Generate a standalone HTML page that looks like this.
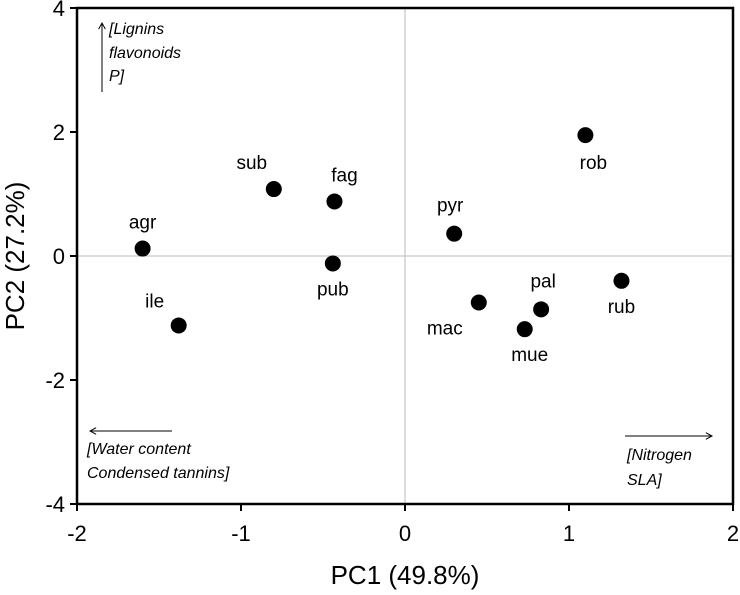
<!DOCTYPE html>
<html><head><meta charset="utf-8"><style>
body{margin:0;background:#fff}
svg text{font-family:"Liberation Sans",sans-serif}
.it{font-style:italic;font-size:16px}
.lab{font-size:19px}
.tick{font-size:22px}
</style></head><body>
<svg id="chart" width="740" height="590"></svg>
<script>
const names=["agr","ile","sub","fag","pub","pyr","mac","mue","pal","rob","rub"];
const pc1=[-1.6,-1.38,-0.8,-0.43,-0.44,0.3,0.45,0.73,0.83,1.1,1.32];
const pc2=[0.12,-1.12,1.08,0.88,-0.12,0.36,-0.75,-1.18,-0.86,1.95,-0.4];
const xTicks=[-2,-1,0,1,2];
const yTicks=[-4,-2,0,2,4];
const labOff={agr:[0,-20],ile:[-24,-18],sub:[-22,-20],fag:[10,-20],pub:[0,32],pyr:[-4,-22],mac:[-34,32],mue:[5,32],pal:[2,-22],rob:[8,34],rub:[0,32]};
const NS="http://www.w3.org/2000/svg";
const svg=document.getElementById('chart');
const X=v=>405+v*164, Y=v=>256-v*62;
function el(t,a,txt){const e=document.createElementNS(NS,t);for(const k in a)e.setAttribute(k,a[k]);if(txt!=null)e.textContent=txt;svg.appendChild(e);return e;}
let e;
e=el('line',{x1:X(0),x2:X(0),y1:Y(4),y2:Y(-4),stroke:'#bbb','stroke-width':1});


e=el('line',{x1:X(-2),x2:X(2),y1:Y(0),y2:Y(0),stroke:'#bbb','stroke-width':1});


e=el('rect',{x:X(-2),y:Y(4),width:X(2)-X(-2),height:Y(-4)-Y(4),fill:'none',stroke:'#000','stroke-width':2.5});


xTicks.forEach(v=>{
 e=el('line',{x1:X(v),x2:X(v),y1:Y(-4),y2:Y(-4)+7,stroke:'#000','stroke-width':2});
 
 
 e=el('text',{x:X(v),y:Y(-4)+37,'text-anchor':'middle',class:'tick'},v);
 
 
});
yTicks.forEach(v=>{
 e=el('line',{x1:X(-2)-7,x2:X(-2),y1:Y(v),y2:Y(v),stroke:'#000','stroke-width':2});
 
 
 e=el('text',{x:X(-2)-12,y:Y(v)+8,'text-anchor':'end',class:'tick'},v);
 
 
});
e=el('text',{x:405,y:584,'text-anchor':'middle','font-size':26},'PC1 (49.8%)');


e=el('text',{x:0,y:0,'text-anchor':'middle','font-size':26,transform:'translate(24,256) rotate(-90)'},'PC2 (27.2%)');


names.forEach((n,i)=>{
 e=el('circle',{cx:X(pc1[i]),cy:Y(pc2[i]),r:8,fill:'#000'});
 
 
 const o=labOff[n];
 e=el('text',{x:X(pc1[i])+o[0],y:Y(pc2[i])+o[1],'text-anchor':'middle',class:'lab'},n);
 
 
});
function arrow(x1,y1,x2,y2,name){
 e=el('line',{x1,y1,x2,y2,stroke:'#000','stroke-width':1});
 
 
 const a=Math.atan2(y2-y1,x2-x1),L=7;
 e=el('polyline',{points:`${x2-L*Math.cos(a-0.5)},${y2-L*Math.sin(a-0.5)} ${x2},${y2} ${x2-L*Math.cos(a+0.5)},${y2-L*Math.sin(a+0.5)}`,fill:'none',stroke:'#000','stroke-width':1});
 
 
}
arrow(102,92,102,23,'up-arrow');
arrow(172,431,90,431,'left-arrow');
arrow(625,436,712,436,'right-arrow');
[['[Lignins',109,34],['flavonoids',109,58],['P]',109,81],['[Water content',87,454],['Condensed tannins]',87,478],['[Nitrogen',627,460],['SLA]',627,485]].forEach(t=>{
 e=el('text',{x:t[1],y:t[2],class:'it'},t[0]);
 
 
});
</script>
</body></html>
